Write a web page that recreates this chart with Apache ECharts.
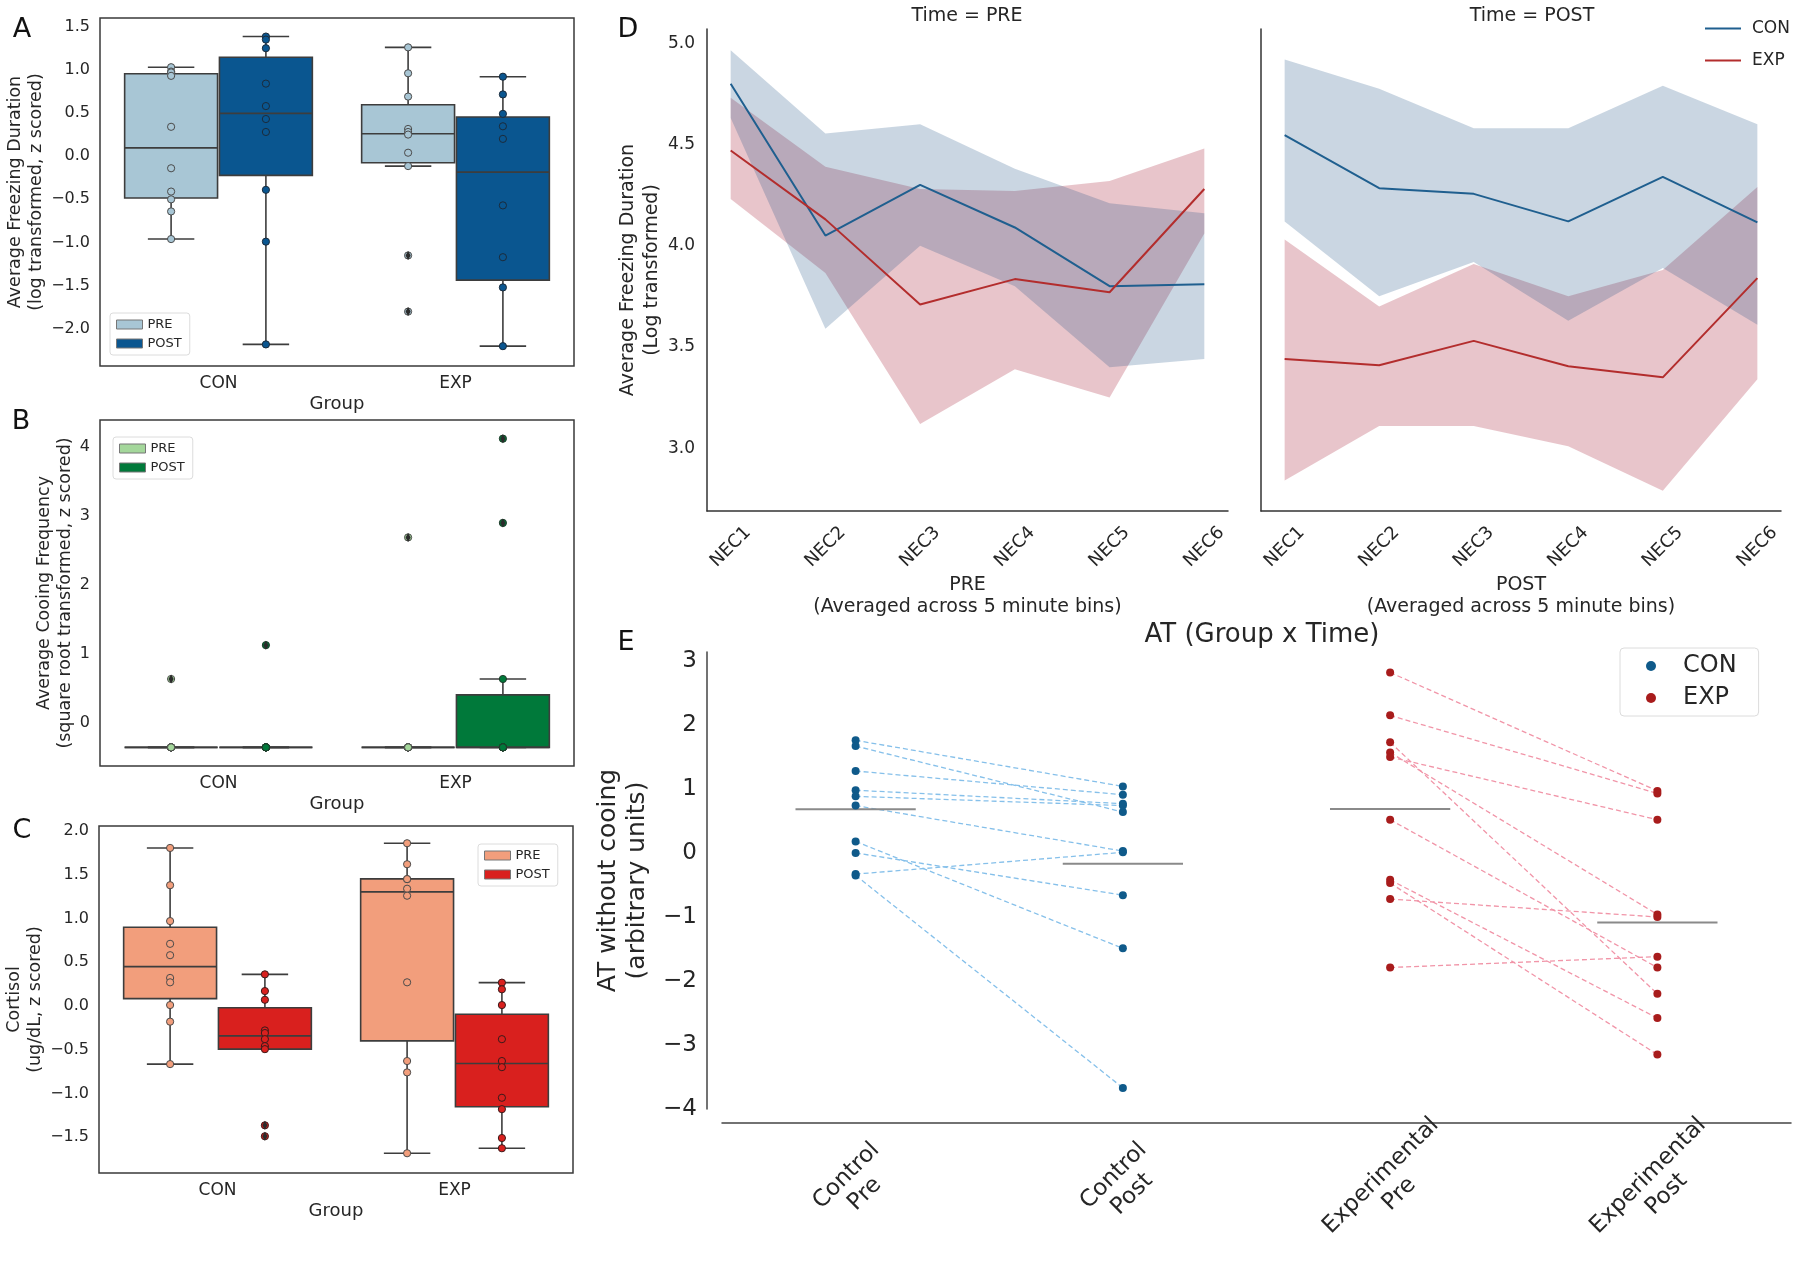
<!DOCTYPE html>
<html><head><meta charset="utf-8">
<script src="https://cdn.jsdelivr.net/npm/echarts@6/dist/echarts.min.js"></script>
<style>html,body{margin:0;padding:0;background:#fff}#c{width:1800px;height:1264px}</style>
</head><body><div id="c"></div>
<script>
// ---------------- DATA ----------------
const GROUPS = ['CON', 'EXP'];
// box stats per group: [whiskerLow, q1, median, q3, whiskerHigh]
const A_PRE_STATS  = [[-0.96, -0.485, 0.096, 0.954, 1.03], [-0.115, -0.077, 0.26, 0.596, 1.26]];
const A_POST_STATS = [[-2.18, -0.223, 0.496, 1.146, 1.385], [-2.2, -1.435, -0.185, 0.454, 0.92]];
const A_PRE_PTS  = [[1.03, 0.98, 0.97, 0.93, 0.34, -0.14, -0.41, -0.50, -0.64, -0.96],
                    [1.26, 0.96, 0.69, 0.315, 0.28, 0.25, 0.04, -0.115, -1.15, -1.80]];
const A_POST_PTS = [[1.385, 1.35, 1.25, 0.84, 0.58, 0.43, 0.28, -0.39, -0.99, -2.18],
                    [0.92, 0.715, 0.49, 0.346, 0.20, -0.57, -1.17, -1.52, -2.2]];

const B_PRE_STATS  = [[-0.35, -0.35, -0.35, -0.35, -0.35], [-0.35, -0.35, -0.35, -0.35, -0.35]];
const B_POST_STATS = [[-0.35, -0.35, -0.35, -0.35, -0.35], [-0.35, -0.35, -0.35, 0.41, 0.64]];
const B_PRE_PTS  = [[0.64, -0.35, -0.35, -0.35, -0.35, -0.35, -0.35, -0.35, -0.35, -0.35],
                    [2.69, -0.35, -0.35, -0.35, -0.35, -0.35, -0.35, -0.35, -0.35, -0.35]];
const B_POST_PTS = [[1.13, -0.35, -0.35, -0.35, -0.35, -0.35, -0.35, -0.35, -0.35, -0.35],
                    [4.12, 2.90, 0.64, -0.35, -0.35, -0.35, -0.35, -0.35, -0.35, -0.35]];

const C_PRE_STATS  = [[-0.665, 0.084, 0.449, 0.90, 1.806], [-1.684, -0.40, 1.304, 1.452, 1.86]];
const C_POST_STATS = [[-0.494, -0.494, -0.342, -0.02, 0.361], [-1.627, -1.152, -0.658, -0.095, 0.266]];
const C_PRE_PTS  = [[1.806, 1.38, 0.97, 0.71, 0.58, 0.32, 0.27, 0.01, -0.18, -0.665],
                    [1.86, 1.62, 1.45, 1.45, 1.34, 1.26, 0.27, -0.63, -0.76, -1.684]];
const C_POST_PTS = [[0.361, 0.17, 0.07, -0.28, -0.31, -0.38, -0.46, -0.494, -1.365, -1.49],
                    [0.266, 0.19, 0.01, -0.38, -0.63, -0.70, -1.05, -1.18, -1.51, -1.627]];

const NEC = ['NEC1', 'NEC2', 'NEC3', 'NEC4', 'NEC5', 'NEC6'];
const D_PRE_CON_MEAN = [4.80, 4.05, 4.30, 4.09, 3.80, 3.81];
const D_PRE_CON_LO   = [4.63, 3.59, 4.00, 3.80, 3.40, 3.44];
const D_PRE_CON_HI   = [4.965, 4.554, 4.60, 4.38, 4.21, 4.16];
const D_PRE_EXP_MEAN = [4.47, 4.13, 3.71, 3.835, 3.77, 4.28];
const D_PRE_EXP_LO   = [4.23, 3.865, 3.12, 3.39, 3.25, 4.06];
const D_PRE_EXP_HI   = [4.73, 4.39, 4.28, 4.27, 4.32, 4.48];
const D_POST_CON_MEAN = [4.546, 4.284, 4.256, 4.12, 4.34, 4.115];
const D_POST_CON_LO   = [4.12, 3.75, 3.92, 3.63, 3.89, 3.61];
const D_POST_CON_HI   = [4.92, 4.775, 4.58, 4.58, 4.79, 4.60];
const D_POST_EXP_MEAN = [3.44, 3.41, 3.53, 3.405, 3.35, 3.84];
const D_POST_EXP_LO   = [2.84, 3.11, 3.11, 3.01, 2.79, 3.34];
const D_POST_EXP_HI   = [4.03, 3.70, 3.91, 3.75, 3.88, 4.29];

const E_CATS = ['Control\nPre', 'Control\nPost', 'Experimental\nPre', 'Experimental\nPost'];
const E_CON_PRE  = [1.76, 1.67, 1.28, 0.98, 0.885, 0.74, 0.18, 0.0, -0.33, -0.35];
const E_CON_POST = [1.04, 0.64, 0.91, 0.77, 0.74, 0.03, -1.49, -0.66, 0.01, -3.67];
const E_EXP_PRE  = [2.82, 2.15, 1.73, 1.57, 1.50, 0.52, -0.42, -0.47, -0.72, -1.79];
const E_EXP_POST = [0.97, 0.93, -2.20, -0.96, 0.52, -1.79, -2.58, -3.15, -1.00, -1.62];

const A_TICKS = [-2, -1.5, -1, -0.5, 0, 0.5, 1, 1.5];
const B_TICKS = [0, 1, 2, 3, 4];
const C_TICKS = [-1.5, -1, -0.5, 0, 0.5, 1, 1.5, 2];
const D_TICKS = [3, 3.5, 4, 4.5, 5];
const E_TICKS = [-4, -3, -2, -1, 0, 1, 2, 3];

// ---------------- STYLE ----------------
const FONT = 'DejaVu Sans';
const TXT = '#262626';
const EDGE = '#3d3d3d';
const COL = {
  A_PRE: '#a8c6d5', A_POST: '#0a5690',
  B_PRE: '#a4d79b', B_POST: '#00793a',
  C_PRE: '#f29e7c', C_POST: '#d9201e',
  D_CON: '#1f5f8f', D_EXP: '#b32d2d',
  D_CON_BAND: 'rgba(27,79,128,0.23)', D_EXP_BAND: 'rgba(163,23,47,0.25)',
  E_CON: '#0f5a8a', E_EXP: '#a81c1c', E_CON_LINE: '#86c0ea', E_EXP_LINE: '#f195a8'
};
const minus = (s) => s.replace('-', '\u2212');
const fmt1 = (v) => minus(Number(v).toFixed(1));
const fmt0 = (v) => minus(String(Math.round(v)));

function boxSeries(name, g, stats, side, fill) {
  return {
    type: 'custom', name: name, xAxisIndex: g, yAxisIndex: g, z: 2,
    itemStyle: { color: fill, borderColor: EDGE },
    data: stats.map((s, i) => [i].concat(s)),
    encode: { x: 0, y: [1, 2, 3, 4, 5] },
    renderItem: function (params, api) {
      const ci = api.value(0);
      const band = api.size([1, 0])[0];
      const w = 0.4 * band * 0.98;
      const cx = api.coord([ci, 0])[0] + side * 0.2 * band;
      const Y = (v) => api.coord([ci, v])[1];
      const lo = Y(api.value(1)), q1 = Y(api.value(2)), md = Y(api.value(3)), q3 = Y(api.value(4)), hi = Y(api.value(5));
      const st = { stroke: EDGE, lineWidth: 1.6 };
      return { type: 'group', children: [
        { type: 'line', shape: { x1: cx, y1: hi, x2: cx, y2: q3 }, style: st },
        { type: 'line', shape: { x1: cx, y1: q1, x2: cx, y2: lo }, style: st },
        { type: 'line', shape: { x1: cx - w / 4, y1: hi, x2: cx + w / 4, y2: hi }, style: st },
        { type: 'line', shape: { x1: cx - w / 4, y1: lo, x2: cx + w / 4, y2: lo }, style: st },
        { type: 'rect', shape: { x: cx - w / 2, y: q3, width: w, height: Math.max(q1 - q3, 0) }, style: { fill: fill, stroke: EDGE, lineWidth: 1.6 } },
        { type: 'line', shape: { x1: cx - w / 2, y1: md, x2: cx + w / 2, y2: md }, style: st }
      ] };
    }
  };
}
function pointSeries(name, g, pts, side, fill, stroke) {
  const data = [];
  pts.forEach((arr, ci) => arr.forEach((v) => data.push([ci, v])));
  return {
    type: 'custom', name: name, xAxisIndex: g, yAxisIndex: g, z: 4, data: data, encode: { x: 0, y: 1 }, silent: true,
    renderItem: function (params, api) {
      const ci = api.value(0), band = api.size([1, 0])[0];
      const p = api.coord([ci, api.value(1)]);
      return { type: 'circle', shape: { cx: p[0] + side * 0.2 * band, cy: p[1], r: 3.6 }, style: { fill: fill, stroke: stroke, lineWidth: 1 } };
    }
  };
}
function flierSeries(name, g, pts, stats, side) {
  const data = [];
  pts.forEach((arr, ci) => arr.forEach((v) => { if (v < stats[ci][0] - 0.01 || v > stats[ci][4] + 0.01) data.push([ci, v]); }));
  return {
    type: 'custom', name: name, xAxisIndex: g, yAxisIndex: g, z: 5, data: data, encode: { x: 0, y: 1 }, silent: true,
    renderItem: function (params, api) {
      const ci = api.value(0), band = api.size([1, 0])[0];
      const p = api.coord([ci, api.value(1)]);
      const x = p[0] + side * 0.2 * band, y = p[1];
      return { type: 'polygon', shape: { points: [[x, y - 4.5], [x + 2.6, y], [x, y + 4.5], [x - 2.6, y]] }, style: { fill: '#2b2b2b' } };
    }
  };
}
// confidence band drawn as one polygon through the axis scales
function bandSeries(key, g, lo, hi, color) {
  return {
    type: 'custom', name: key, xAxisIndex: g, yAxisIndex: g, z: 1, silent: true,
    data: lo.map((v, i) => [i, v, hi[i]]), encode: { x: 0, y: [1, 2] },
    renderItem: function (params, api) {
      if (params.dataIndexInside !== 0) return null;
      const n = params.dataInsideLength;
      const top = [], bot = [];
      for (let j = 0; j < n; j++) {
        const x = api.value(0, j);
        bot.push(api.coord([x, api.value(1, j)]));
        top.push(api.coord([x, api.value(2, j)]));
      }
      return { type: 'polygon', shape: { points: bot.concat(top.reverse()) }, style: { fill: color } };
    }
  };
}
function meanLine(name, g, vals, color) {
  return { type: 'line', name: name, xAxisIndex: g, yAxisIndex: g, symbol: 'none', showSymbol: false, z: 3,
    lineStyle: { color: color, width: 2 }, itemStyle: { color: color }, data: vals.map((v, i) => [i, v]) };
}
const mean = (a) => a.reduce((s, v) => s + v, 0) / a.length;

// ---------------- AXES ----------------
function boxX(g) {
  return { gridIndex: g, type: 'category', data: GROUPS, axisLine: { show: false, onZero: false }, axisTick: { show: false },
    axisLabel: { fontSize: 17, margin: 9, color: TXT },
    name: 'Group', nameLocation: 'middle', nameGap: 38, nameTextStyle: { fontSize: 18, color: TXT, verticalAlign: 'middle' } };
}
function boxY(g, min, max, ticks, f, name, gap) {
  return { gridIndex: g, type: 'value', min: min, max: max, axisLine: { show: false }, axisTick: { show: false }, splitLine: { show: false },
    axisLabel: { customValues: ticks, formatter: f, fontSize: 16, margin: 10, color: TXT },
    name: name, nameLocation: 'middle', nameRotate: 90, nameGap: gap,
    nameTextStyle: { fontSize: 17.5, lineHeight: 21, color: TXT, verticalAlign: 'middle', align: 'center' } };
}
function dX(g, nm) {
  return { gridIndex: g, type: 'value', min: -0.25, max: 5.25, axisLine: { show: true, onZero: false, lineStyle: { color: '#333', width: 1.5 } },
    axisTick: { show: false }, splitLine: { show: false },
    axisLabel: { customValues: [0, 1, 2, 3, 4, 5], formatter: (v) => NEC[Math.round(v)], rotate: 45, align: 'center', verticalAlign: 'middle', margin: 36, fontSize: 18, color: TXT },
    name: nm + '\n(Averaged across 5 minute bins)', nameLocation: 'middle', nameGap: 58,
    nameTextStyle: { fontSize: 19, lineHeight: 22, color: TXT, verticalAlign: 'top', align: 'center' } };
}
function dY(g, showLabels) {
  const ax = { gridIndex: g, type: 'value', min: 2.69, max: 5.07, axisLine: { show: true, onZero: false, lineStyle: { color: '#333', width: 1.5 } },
    axisTick: { show: false }, splitLine: { show: false },
    axisLabel: { show: showLabels, customValues: D_TICKS, formatter: fmt1, fontSize: 17, margin: 12, color: TXT } };
  if (showLabels) {
    ax.name = 'Average Freezing Duration\n(Log transformed)';
    ax.nameLocation = 'middle'; ax.nameRotate = 90; ax.nameGap = 65;
    ax.nameTextStyle = { fontSize: 19, lineHeight: 24, color: TXT, verticalAlign: 'middle', align: 'center' };
  }
  return ax;
}

// ---------------- SERIES ----------------
const series = [];
[[0, A_PRE_STATS, A_POST_STATS, A_PRE_PTS, A_POST_PTS, 'A', COL.A_PRE, COL.A_POST, '#4a4a4a', '#1b2b3b'],
 [1, B_PRE_STATS, B_POST_STATS, B_PRE_PTS, B_POST_PTS, 'B', COL.B_PRE, COL.B_POST, '#4a4a4a', '#1f3a2a'],
 [2, C_PRE_STATS, C_POST_STATS, C_PRE_PTS, C_POST_PTS, 'C', COL.C_PRE, COL.C_POST, '#4a4a4a', '#3a1a1a']].forEach((p) => {
  const [g, sPre, sPost, pPre, pPost, k, cPre, cPost, ePre, ePost] = p;
  series.push(boxSeries(k + ' PRE', g, sPre, -1, cPre));
  series.push(boxSeries(k + ' POST', g, sPost, 1, cPost));
  series.push(pointSeries(k + ' PRE pts', g, pPre, -1, cPre, ePre));
  series.push(pointSeries(k + ' POST pts', g, pPost, 1, cPost, ePost));
  series.push(flierSeries(k + ' PRE fl', g, pPre, sPre, -1));
  series.push(flierSeries(k + ' POST fl', g, pPost, sPost, 1));
});

series.push(bandSeries('dpe', 3, D_PRE_EXP_LO, D_PRE_EXP_HI, COL.D_EXP_BAND));
series.push(bandSeries('dpc', 3, D_PRE_CON_LO, D_PRE_CON_HI, COL.D_CON_BAND));
series.push(bandSeries('dqe', 4, D_POST_EXP_LO, D_POST_EXP_HI, COL.D_EXP_BAND));
series.push(bandSeries('dqc', 4, D_POST_CON_LO, D_POST_CON_HI, COL.D_CON_BAND));
series.push(meanLine('D CON', 3, D_PRE_CON_MEAN, COL.D_CON));
series.push(meanLine('D EXP', 3, D_PRE_EXP_MEAN, COL.D_EXP));
series.push(meanLine('D CON', 4, D_POST_CON_MEAN, COL.D_CON));
series.push(meanLine('D EXP', 4, D_POST_EXP_MEAN, COL.D_EXP));

E_CON_PRE.forEach((v, i) => series.push({ type: 'line', name: 'con pair ' + i, xAxisIndex: 5, yAxisIndex: 5, symbol: 'none', silent: true, z: 1,
  lineStyle: { type: [5, 3], color: COL.E_CON_LINE, width: 1.3 }, data: [[0, v], [1, E_CON_POST[i]]] }));
E_EXP_PRE.forEach((v, i) => series.push({ type: 'line', name: 'exp pair ' + i, xAxisIndex: 5, yAxisIndex: 5, symbol: 'none', silent: true, z: 1,
  lineStyle: { type: [5, 3], color: COL.E_EXP_LINE, width: 1.3 }, data: [[2, v], [3, E_EXP_POST[i]]] }));
series.push({ type: 'scatter', name: 'CON', xAxisIndex: 5, yAxisIndex: 5, symbolSize: 8, z: 4, itemStyle: { color: COL.E_CON, opacity: 1 },
  data: E_CON_PRE.map((v) => [0, v]).concat(E_CON_POST.map((v) => [1, v])) });
series.push({ type: 'scatter', name: 'EXP', xAxisIndex: 5, yAxisIndex: 5, symbolSize: 8, z: 4, itemStyle: { color: COL.E_EXP, opacity: 1 },
  data: E_EXP_PRE.map((v) => [2, v]).concat(E_EXP_POST.map((v) => [3, v])) });
series.push({ type: 'custom', name: 'E means', xAxisIndex: 5, yAxisIndex: 5, z: 3, silent: true,
  data: [[0, mean(E_CON_PRE)], [1, mean(E_CON_POST)], [2, mean(E_EXP_PRE)], [3, mean(E_EXP_POST)]],
  encode: { x: 0, y: 1 },
  renderItem: function (params, api) {
    const band = api.size([1, 0])[0];
    const p = api.coord([api.value(0), api.value(1)]);
    return { type: 'line', shape: { x1: p[0] - 0.225 * band, y1: p[1], x2: p[0] + 0.225 * band, y2: p[1] }, style: { stroke: '#8a8a8a', lineWidth: 2 } };
  } });

// ---------------- LEGENDS ----------------
function boxLegend(k, left, top, cPre, cPost) {
  return { orient: 'vertical', left: left, top: top, itemWidth: 26, itemHeight: 9, itemGap: 6,
    padding: [5, 8, 5, 6], borderColor: '#dcdcdc', borderWidth: 1, borderRadius: 3, backgroundColor: '#fff',
    textStyle: { fontSize: 13, color: TXT, fontFamily: FONT }, formatter: (n) => n.slice(2), selectedMode: false,
    data: [{ name: k + ' PRE', icon: 'rect', itemStyle: { color: cPre, borderColor: '#777', borderWidth: 1 } },
           { name: k + ' POST', icon: 'rect', itemStyle: { color: cPost, borderColor: '#777', borderWidth: 1 } }] };
}

const option = {
  animation: false,
  backgroundColor: '#fff',
  textStyle: { fontFamily: FONT, color: TXT },
  grid: [
    { left: 100, top: 18, width: 474, height: 348, show: true, borderColor: '#3a3a3a', borderWidth: 1.5, outerBoundsMode: 'none' },
    { left: 100, top: 420, width: 474, height: 346, show: true, borderColor: '#3a3a3a', borderWidth: 1.5, outerBoundsMode: 'none' },
    { left: 99, top: 826, width: 474, height: 347, show: true, borderColor: '#3a3a3a', borderWidth: 1.5, outerBoundsMode: 'none' },
    { left: 707, top: 29, width: 521, height: 482, outerBoundsMode: 'none' },
    { left: 1261, top: 29, width: 520, height: 482, outerBoundsMode: 'none' },
    { left: 722, top: 652, width: 1069, height: 457, outerBoundsMode: 'none' }
  ],
  xAxis: [
    boxX(0), boxX(1), boxX(2), dX(3, 'PRE'), dX(4, 'POST'),
    { gridIndex: 5, type: 'category', data: E_CATS, offset: 14, axisLine: { show: true, onZero: false, lineStyle: { color: '#444', width: 1.5 } },
      axisTick: { show: false },
      axisLabel: { interval: 0, rotate: 45, align: 'center', verticalAlign: 'middle', margin: 62, fontSize: 23, lineHeight: 26, color: TXT } }
  ],
  yAxis: [
    boxY(0, -2.43, 1.60, A_TICKS, fmt1, 'Average Freezing Duration\n(log transformed, z scored)', 73),
    boxY(1, -0.62, 4.39, B_TICKS, fmt0, 'Average Cooing Frequency\n(square root transformed, z scored)', 42),
    boxY(2, -1.91, 2.057, C_TICKS, fmt1, 'Cortisol\n(ug/dL, z scored)', 72),
    dY(3, true), dY(4, false),
    { gridIndex: 5, type: 'value', min: -4, max: 3.14, offset: 15, axisLine: { show: true, onZero: false, lineStyle: { color: '#444', width: 1.5 } },
      axisTick: { show: false }, splitLine: { show: false },
      axisLabel: { customValues: E_TICKS, formatter: fmt0, fontSize: 23, margin: 10, color: TXT },
      name: 'AT without cooing\n(arbitrary units)', nameLocation: 'middle', nameRotate: 90, nameGap: 76,
      nameTextStyle: { fontSize: 25, lineHeight: 29, color: TXT, verticalAlign: 'middle', align: 'center' } }
  ],
  legend: [
    boxLegend('A', 110, 313, COL.A_PRE, COL.A_POST),
    boxLegend('B', 113, 437, COL.B_PRE, COL.B_POST),
    boxLegend('C', 478, 844, COL.C_PRE, COL.C_POST),
    { orient: 'vertical', left: 1705, top: 20, itemWidth: 36, itemHeight: 2, itemGap: 15, padding: 0, selectedMode: false,
      textStyle: { fontSize: 17, color: TXT, fontFamily: FONT, padding: [0, 0, 0, 6] }, formatter: (n) => n.slice(2),
      data: [{ name: 'D CON', icon: 'rect', itemStyle: { color: COL.D_CON } }, { name: 'D EXP', icon: 'rect', itemStyle: { color: COL.D_EXP } }] },
    { orient: 'vertical', left: 1620, top: 648, itemWidth: 10, itemHeight: 10, itemGap: 8, icon: 'circle', selectedMode: false,
      padding: [6, 22, 6, 26], borderColor: '#dcdcdc', borderWidth: 1, borderRadius: 4,
      textStyle: { fontSize: 24, color: TXT, fontFamily: FONT, padding: [0, 0, 0, 22] },
      data: ['CON', 'EXP'] }
  ],
  graphic: [
    { type: 'text', x: 22, y: 30, style: { text: 'A', fontSize: 27, fontFamily: FONT, fill: '#111', align: 'center', verticalAlign: 'middle' } },
    { type: 'text', x: 21, y: 422, style: { text: 'B', fontSize: 27, fontFamily: FONT, fill: '#111', align: 'center', verticalAlign: 'middle' } },
    { type: 'text', x: 22, y: 831, style: { text: 'C', fontSize: 27, fontFamily: FONT, fill: '#111', align: 'center', verticalAlign: 'middle' } },
    { type: 'text', x: 628, y: 30, style: { text: 'D', fontSize: 27, fontFamily: FONT, fill: '#111', align: 'center', verticalAlign: 'middle' } },
    { type: 'text', x: 626, y: 643, style: { text: 'E', fontSize: 27, fontFamily: FONT, fill: '#111', align: 'center', verticalAlign: 'middle' } },
    { type: 'text', x: 967, y: 16, style: { text: 'Time = PRE', fontSize: 19, fontFamily: FONT, fill: TXT, align: 'center', verticalAlign: 'middle' } },
    { type: 'text', x: 1532, y: 16, style: { text: 'Time = POST', fontSize: 19, fontFamily: FONT, fill: TXT, align: 'center', verticalAlign: 'middle' } },
    { type: 'text', x: 1262, y: 635, style: { text: 'AT (Group x Time)', fontSize: 26, fontFamily: FONT, fill: TXT, align: 'center', verticalAlign: 'middle' } }
  ],
  series: series
};
const chart = echarts.init(document.getElementById('c'), null, { renderer: 'canvas' });
chart.setOption(option);
</script>
</body></html>
